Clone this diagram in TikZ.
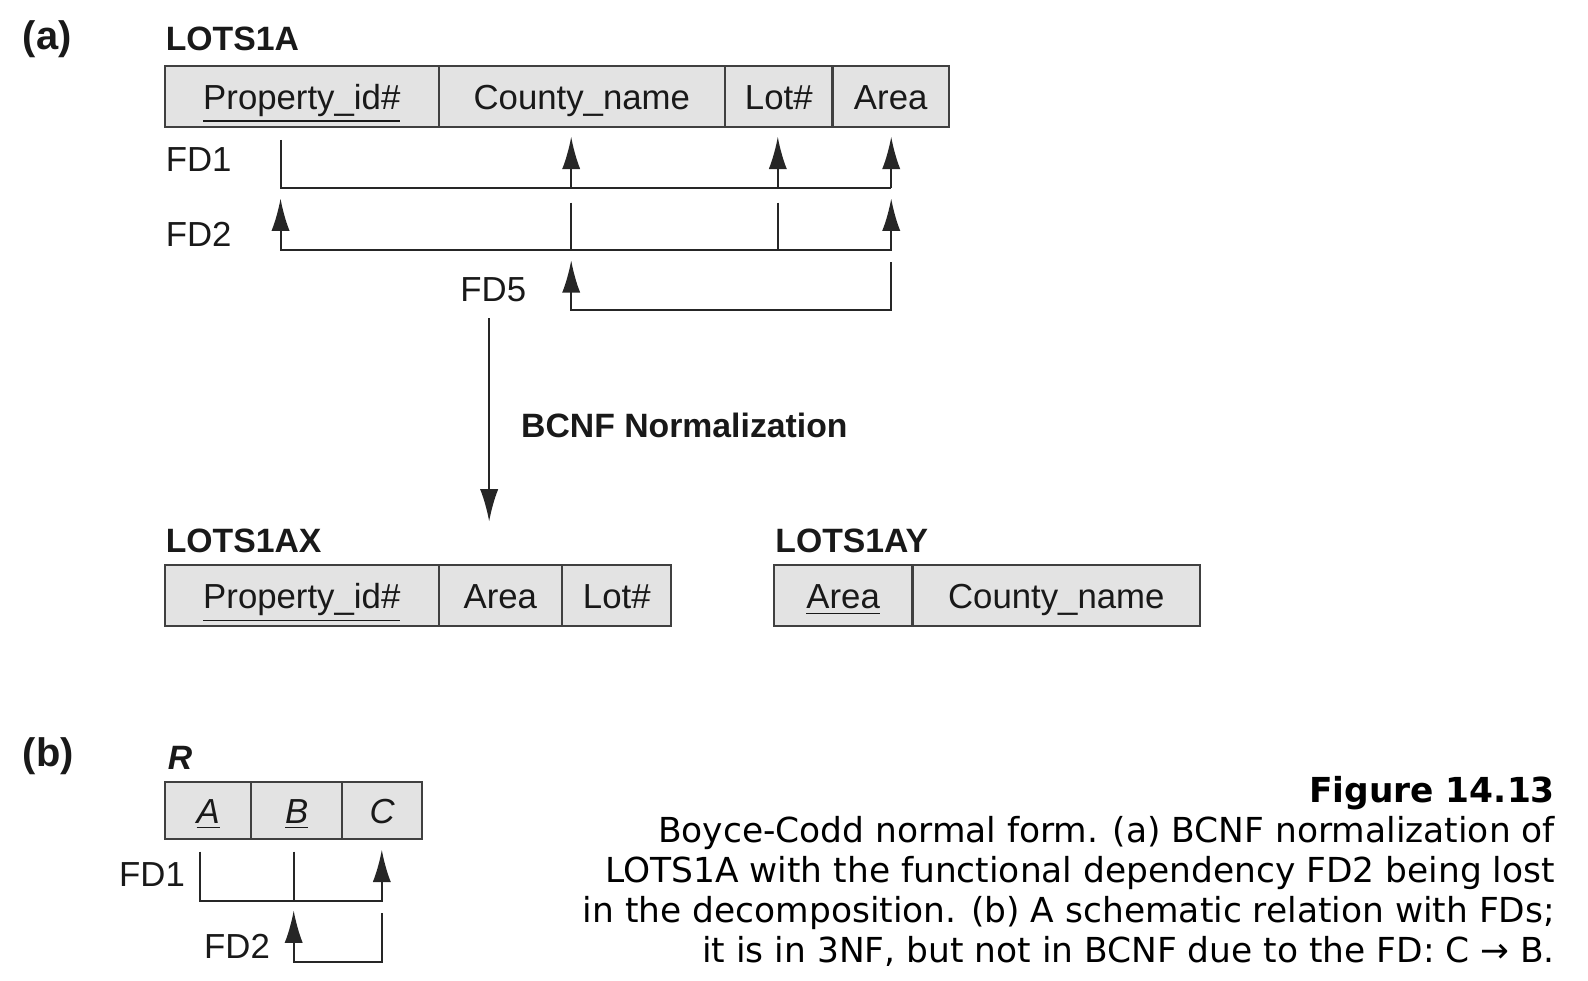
\documentclass[tikz,border=0pt]{standalone}
\usepackage{fontspec}
\setmainfont{Liberation Sans}
\newfontfamily\capfont{DejaVu Sans}
\usetikzlibrary{arrows.meta}

\tikzset{
  cell/.style={draw=black!75, fill=black!11, line width=0.6pt, minimum height=18pt,
    inner sep=0pt, text height=0.96em, text depth=0.2em},
  fd/.style={line width=0.6pt, draw=black!85},
  tip/.tip={Latex[length=9.6pt,width=5.4pt]},
  ttl/.style={anchor=base west, inner sep=0pt, font=\bfseries},
  part/.style={anchor=base west, inner sep=0pt, font={\fontsize{11.8pt}{14pt}\selectfont\bfseries}},
  lab/.style={anchor=base west, inner sep=0pt},
}

\begin{document}
\begin{tikzpicture}[x=0.3pt,y=-0.3pt,font={\fontsize{10.3pt}{12pt}\selectfont},text=black!90]
  \useasboundingbox (0,0) rectangle (1568,968);

  % (a) LOTS1A
  \node[part] (parta) at (22,49) {(a)};
  \node[ttl] (lotsa) at (163,50) {LOTS1A};
  \node[cell,minimum width=81pt]   (apid) at (298,95)   {\underline{Property\_id\#}};
  \node[cell,minimum width=84.9pt] (acty) at (574.5,95) {County\_name};
  \node[cell,minimum width=31.8pt] (alot) at (769,95)   {Lot\#};
  \node[cell,minimum width=34.5pt] (aar)  at (879.5,95) {Area};

  \foreach \c/\x in {P/277,C/564,L/768,A/880}
    \coordinate (col\c) at (\x,0);

  \node[lab] (fda1) at (163,169) {FD1};
  \node[lab] (fda2) at (163,243) {FD2};
  \node[lab] (fda5) at (454,298) {FD5};

  % FD1
  \draw[fd] (colP |- 0,138) |- (colA |- 0,186);
  \foreach \c in {C,L,A}
    \draw[fd,-tip] (col\c |- 0,186) -- (col\c |- 0,135);
  % FD2
  \draw[fd,tip-tip] (colP |- 0,196) |- (colA |- 0,247) -- (colA |- 0,196);
  \foreach \c in {C,L}
    \draw[fd] (col\c |- 0,200) -- (col\c |- 0,247);
  % FD5
  \draw[fd,tip-] (colC |- 0,257) |- (colA |- 0,306) -- (colA |- 0,259);

  % normalization
  \coordinate (nstart) at (483,314);
  \coordinate (nend) at (483,515);
  \draw[fd,-tip] (nstart) -- (nend);
  \node[ttl] (norm) at (514,432) {BCNF Normalization};

  % LOTS1AX
  \node[ttl] (lotsax) at (163,546) {LOTS1AX};
  \node[cell,minimum width=81pt]   (xpid) at (298,588) {\underline{Property\_id\#}};
  \node[cell,minimum width=36.6pt] (xar)  at (494,588) {Area};
  \node[cell,minimum width=32.4pt] (xlot) at (609,588) {Lot\#};

  % LOTS1AY
  \node[ttl] (lotsay) at (765,546) {LOTS1AY};
  \node[cell,minimum width=41.1pt] (yar)  at (832.5,588) {\underline{Area}};
  \node[cell,minimum width=85.2pt] (ycty) at (1043,588)  {County\_name};

  % (b) R
  \node[part] (partb) at (22,757) {(b)};
  \node[ttl] (rel) at (165,760) {\textit{R}};
  \node[cell,minimum width=25.5pt,minimum height=16.8pt] (ra) at (205.5,800) {\underline{\textit{A}}};
  \node[cell,minimum width=27pt,minimum height=16.8pt]   (rb) at (293,800)   {\underline{\textit{B}}};
  \node[cell,minimum width=23.7pt,minimum height=16.8pt] (rc) at (377.5,800) {\textit{C}};

  \foreach \c/\x in {A/197,B/290,C/377}
    \coordinate (colb\c) at (\x,0);

  \node[lab] (fdb1) at (117,875) {FD1};
  \node[lab] (fdb2) at (201,946) {FD2};

  \draw[fd,-tip] (colbA |- 0,841) |- (colbC |- 0,890) -- (colbC |- 0,839);
  \draw[fd] (colbB |- 0,841) -- (colbB |- 0,890);
  \draw[fd,tip-] (colbB |- 0,899) |- (colbC |- 0,950) -- (colbC |- 0,901);

  % caption
  \node[anchor=base east,align=right,inner sep=0pt,text=black,
    font={\capfont\fontsize{10.2pt}{11.85pt}\selectfont}] (cap) at (1536,950)
    {\textbf{Figure 14.13}\\
     Boyce-Codd normal form. (a) BCNF normalization of\\
     LOTS1A with the functional dependency FD2 being lost\\
     in the decomposition. (b) A schematic relation with FDs;\\
     it is in 3NF, but not in BCNF due to the FD: C → B.};
\end{tikzpicture}
\end{document}
